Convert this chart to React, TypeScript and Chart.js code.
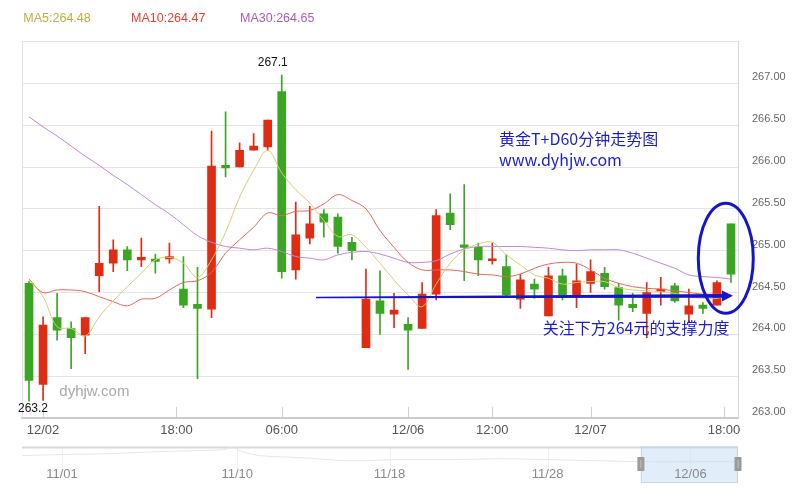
import React, { useEffect, useRef } from 'react';
import { Chart, registerables } from 'chart.js';

Chart.register(...registerables);

// ---------- data ----------
const opens = [
  264.61, 263.40, 264.20, 264.07, 263.99, 264.70, 264.85, 265.01, 264.89, 264.90,
  264.90, 264.54, 264.36, 264.30, 266.02, 266.00, 266.20, 266.24, 266.90, 264.77,
  265.15, 265.44, 265.40, 265.10, 263.84, 264.40, 264.24, 264.12, 264.07, 264.48,
  265.45, 265.07, 265.04, 264.88, 264.81, 264.42, 264.60, 264.22, 264.70, 264.47,
  264.61, 264.73, 264.56, 264.36, 264.25, 264.51, 264.58, 264.24, 264.35, 264.35,
  265.32,
];
const highs = [
  264.63, 264.21, 264.49, 264.15, 264.20, 265.53, 265.13, 265.05, 265.15, 264.96,
  265.09, 264.93, 264.80, 266.43, 266.66, 266.29, 266.40, 266.56, 267.10, 265.58,
  265.53, 265.49, 265.44, 265.16, 264.78, 264.76, 264.49, 264.20, 264.62, 265.49,
  265.68, 265.79, 265.09, 265.09, 264.95, 264.72, 264.66, 264.80, 264.78, 264.84,
  264.89, 264.80, 264.61, 264.49, 264.62, 264.68, 264.61, 264.54, 264.38, 264.64,
  265.32,
];
const lows = [
  263.20, 263.21, 263.93, 263.59, 263.77, 264.51, 264.75, 264.76, 264.81, 264.73,
  264.85, 264.32, 263.47, 264.20, 265.88, 266.00, 266.20, 266.20, 264.67, 264.66,
  265.08, 265.16, 264.97, 264.89, 263.84, 264.00, 264.08, 263.58, 264.07, 264.41,
  265.25, 264.64, 264.70, 264.84, 264.45, 264.31, 264.43, 264.22, 264.41, 264.32,
  264.50, 264.54, 264.17, 264.27, 263.96, 264.35, 264.38, 264.15, 264.25, 264.35,
  264.62,
];
const closes = [
  263.45, 264.11, 264.05, 263.96, 264.20, 264.85, 265.01, 264.89, 264.92, 264.87,
  264.93, 264.35, 264.31, 266.01, 265.99, 266.20, 266.25, 266.56, 264.75, 265.19,
  265.32, 265.34, 265.05, 265.00, 264.42, 264.25, 264.29, 264.05, 264.48, 265.42,
  265.31, 265.04, 264.89, 264.90, 264.47, 264.65, 264.54, 264.70, 264.47, 264.64,
  264.75, 264.57, 264.35, 264.32, 264.50, 264.54, 264.40, 264.34, 264.31, 264.62,
  264.72,
];
const ma5 = [
  264.65, 264.45, 264.09, 264.07, 263.98, 264.21, 264.40, 264.57, 264.73, 264.89,
  264.92, 264.85, 264.68, 264.89, 265.22, 265.64, 265.96, 266.20, 265.93, 265.73,
  265.57, 265.36, 265.17, 265.19, 265.04, 264.85, 264.65, 264.47, 264.33, 264.60,
  264.85, 265.01, 265.08, 265.10, 264.95, 264.83, 264.71, 264.67, 264.60, 264.62,
  264.63, 264.63, 264.56, 264.53, 264.52, 264.51, 264.49, 264.45, 264.43, 264.43,
  264.48,
];
const ma10 = [
  264.66, 264.50, 264.53, 264.53, 264.51, 264.45, 264.39, 264.34, 264.42, 264.43,
  264.53, 264.62, 264.64, 264.74, 264.97, 265.13, 265.28, 265.45, 265.42, 265.47,
  265.48, 265.56, 265.67, 265.60, 265.50, 265.24, 265.04, 264.86, 264.77, 264.77,
  264.77, 264.75, 264.72, 264.71, 264.69, 264.72, 264.79, 264.84, 264.86, 264.85,
  264.77, 264.67, 264.61, 264.57, 264.55, 264.54, 264.52, 264.50, 264.48, 264.48,
  264.47,
];
const ma30 = [
  266.60, 266.48, 266.37, 266.25, 266.13, 266.02, 265.90, 265.79, 265.67, 265.55,
  265.44, 265.31, 265.18, 265.10, 265.05, 265.03, 265.01, 265.03, 264.99, 264.93,
  264.91, 264.89, 264.95, 264.98, 264.99, 264.96, 264.91, 264.86, 264.86, 264.88,
  264.96, 265.02, 265.05, 265.05, 265.05, 265.05, 265.04, 265.03, 265.01, 265.00,
  265.01, 265.01, 265.01, 264.97, 264.91, 264.85, 264.79, 264.71, 264.69, 264.68,
  264.66,
];

const xTickValues = [1, 10.5, 18, 27, 33, 40, 49.5];
const xTickLabels = ['12/02', '18:00', '06:00', '12/06', '12:00', '12/07', '18:00'];

const legendNames = ['MA5', 'MA10', 'MA30'];
const legendValues = ['264.48', '264.47', '264.65'];

// slider (dataZoom) overview
const sliderLabels = ['11/01', '11/10', '11/18', '11/28', '12/06'];
const sliderLabelIdx = [21, 113, 193, 276, 351];
const sliderTotal = 376;
const sliderWindow = [325, 376];
const sliderShadowIdx = [0, 21, 46, 72, 93, 106, 111, 114, 125, 146, 172, 198, 225, 251, 277, 303, 324, 355, 376];
const sliderShadowVals = [275.0, 275.6, 276.1, 277.2, 277.8, 278.3, 280.0, 277.8, 275.0, 273.9, 272.2, 272.8, 272.8, 273.3, 272.8, 272.2, 271.7, 271.7, 271.7];

// ---------- styles ----------
const UP = '#df2c12';
const DOWN = '#3ca524';
const MA_LINE = ['#d6cc72', '#ea6456', '#c684d4'];
const MA_TEXT = ['#b9b040', '#e8402e', '#ab5bbd'];
const BLUE_TEXT = '#1e1ec8';
const BLUE_SHAPE = '#1414cf';
const CJK = '"Noto Sans CJK SC", "Noto Sans", sans-serif';
const LATIN = 'Arial, "Liberation Sans", sans-serif';

const W = 799;
const H = 494;

export default function App() {
  const mainRef = useRef<HTMLCanvasElement>(null);
  const sliderRef = useRef<HTMLCanvasElement>(null);

  useEffect(() => {
    document.body.style.margin = '0';
    Chart.defaults.font.family = LATIN;

    const n = opens.length;
    const idx = opens.map((_, i) => i);
    const colors = idx.map((i) => (closes[i] >= opens[i] ? UP : DOWN));
    const bodies = idx.map((i) => ({ x: i, y: [Math.min(opens[i], closes[i]), Math.max(opens[i], closes[i])] }));
    const wicks = idx.map((i) => ({ x: i, y: [lows[i], highs[i]] }));
    const maSeries = [ma5, ma10, ma30];

    let maxI = 0;
    let minI = 0;
    idx.forEach((i) => {
      if (highs[i] > highs[maxI]) maxI = i;
      if (lows[i] < lows[minI]) minI = i;
    });

    const mainDecor = {
      id: 'mainDecor',
      beforeDatasetsDraw(chart: any) {
        const { ctx, chartArea: a } = chart;
        ctx.save();
        ctx.strokeStyle = '#e2e2e2';
        ctx.lineWidth = 1;
        ctx.beginPath();
        ctx.moveTo(a.left + 0.5, a.top);
        ctx.lineTo(a.left + 0.5, a.bottom);
        ctx.stroke();
        ctx.restore();
      },
      afterDraw(chart: any) {
        const { ctx, chartArea: a, scales } = chart;
        const xs = scales.x;
        const ys = scales.y;
        ctx.save();

        // inside tick marks on the category axis
        ctx.strokeStyle = '#cfcfcf';
        ctx.lineWidth = 1;
        xs.ticks.forEach((t: any) => {
          const px = Math.round(xs.getPixelForValue(t.value)) + 0.5;
          ctx.beginPath();
          ctx.moveTo(px, a.bottom - 11);
          ctx.lineTo(px, a.bottom);
          ctx.stroke();
        });

        // legend
        ctx.textBaseline = 'middle';
        ctx.textAlign = 'left';
        ctx.font = `12.5px ${LATIN}`;
        const legX = [1.3, 109, 218];
        legendNames.forEach((nm, k) => {
          ctx.fillStyle = MA_TEXT[k];
          ctx.fillText(`${nm}:${legendValues[k]}`, a.left + legX[k], 19);
        });

        // max / min markers
        ctx.fillStyle = '#111';
        ctx.font = `12px ${LATIN}`;
        ctx.textAlign = 'center';
        ctx.fillText(highs[maxI].toFixed(1), xs.getPixelForValue(maxI) - 9, ys.getPixelForValue(highs[maxI]) - 12);
        ctx.fillText(lows[minI].toFixed(1), xs.getPixelForValue(minI) + 4, ys.getPixelForValue(lows[minI]) + 7);

        // watermark text
        ctx.textAlign = 'left';
        ctx.fillStyle = '#a9a9a9';
        ctx.font = `15px ${LATIN}`;
        ctx.fillText('dyhjw.com', xs.getPixelForValue(2.16), ys.getPixelForValue(263.31));

        // blue annotations
        ctx.fillStyle = BLUE_TEXT;
        ctx.font = `16px ${CJK}`;
        ctx.fillText('黄金T+D60分钟走势图', xs.getPixelForValue(33.47), ys.getPixelForValue(266.33));
        ctx.fillText('www.dyhjw.com', xs.getPixelForValue(33.47), ys.getPixelForValue(266.08));
        ctx.fillText('关注下方264元的支撑力度', xs.getPixelForValue(36.6), ys.getPixelForValue(264.08));

        // arrow
        const x0 = xs.getPixelForValue(20.44);
        const y0 = ys.getPixelForValue(264.44);
        const x1 = xs.getPixelForValue(50.14);
        const y1 = ys.getPixelForValue(264.46);
        const hx = x1 - 11;
        const hy = y0 + (y1 - y0) * ((hx - x0) / (x1 - x0));
        ctx.fillStyle = BLUE_SHAPE;
        ctx.beginPath();
        ctx.moveTo(x0, y0 - 0.8);
        ctx.lineTo(hx, hy - 1.8);
        ctx.lineTo(hx, hy + 1.8);
        ctx.lineTo(x0, y0 + 0.8);
        ctx.closePath();
        ctx.fill();
        ctx.beginPath();
        ctx.moveTo(x1, y1);
        ctx.lineTo(hx, hy - 5.5);
        ctx.lineTo(hx, hy + 5.5);
        ctx.closePath();
        ctx.fill();

        // ellipse
        ctx.strokeStyle = BLUE_SHAPE;
        ctx.lineWidth = 3;
        ctx.beginPath();
        ctx.ellipse(xs.getPixelForValue(49.63), ys.getPixelForValue(264.91), 27.5, 55, 0, 0, Math.PI * 2);
        ctx.stroke();

        ctx.restore();
      },
    };

    const main = new Chart(mainRef.current as HTMLCanvasElement, {
      type: 'bar',
      data: {
        datasets: [
          ...maSeries.map((s, k) => ({
            type: 'line' as const,
            data: s.map((v, i) => ({ x: i, y: v })),
            borderColor: MA_LINE[k],
            borderWidth: 1,
            pointRadius: 0,
            tension: 0.35,
            fill: false,
            order: 0,
          })),
          {
            type: 'bar' as const,
            data: wicks as any,
            backgroundColor: colors,
            barThickness: 1,
            grouped: false,
            order: 2,
          },
          {
            type: 'bar' as const,
            data: bodies as any,
            backgroundColor: colors,
            barThickness: 8,
            minBarLength: 2,
            grouped: false,
            order: 1,
          },
        ],
      },
      options: {
        responsive: false,
        animation: false,
        events: [],
        layout: { padding: { left: 22, top: 41.5, right: 0, bottom: 46 } },
        plugins: { legend: { display: false }, tooltip: { enabled: false } },
        scales: {
          x: {
            type: 'linear',
            min: -0.5,
            max: n - 0.5,
            offset: false,
            afterBuildTicks: (s: any) => {
              s.ticks = xTickValues.map((v) => ({ value: v }));
            },
            afterFit: (s: any) => {
              s.height = 30;
            },
            ticks: {
              autoSkip: false,
              maxRotation: 0,
              padding: 5,
              color: '#555',
              font: { size: 13, family: LATIN },
              callback: (_v: any, i: number) => xTickLabels[i],
            },
            grid: { display: false, drawTicks: false, offset: false },
            border: { display: true, color: '#cccccc', width: 2 },
          },
          y: {
            type: 'linear',
            position: 'right',
            min: 263,
            max: 267.5,
            beginAtZero: false,
            afterFit: (s: any) => {
              s.width = 61;
            },
            ticks: {
              stepSize: 0.5,
              padding: 14,
              labelOffset: -6,
              color: '#666',
              font: { size: 11, family: LATIN },
              callback: (v: any) => (Number(v) > 267.01 ? '' : Number(v).toFixed(2)),
            },
            grid: { color: '#e4e4e4', lineWidth: 1, drawTicks: false },
            border: { display: true, color: '#cfd8e6', width: 1 },
          },
        },
      },
      plugins: [mainDecor],
    } as any);

    const sliderDecor = {
      id: 'sliderDecor',
      beforeDatasetsDraw(chart: any) {
        const { ctx, chartArea: a, scales } = chart;
        const xs = scales.x;
        ctx.save();
        ctx.strokeStyle = '#efefef';
        ctx.lineWidth = 1;
        sliderLabelIdx.forEach((v) => {
          const px = Math.round(xs.getPixelForValue(v)) + 0.5;
          ctx.beginPath();
          ctx.moveTo(px, a.top);
          ctx.lineTo(px, a.top + 22);
          ctx.stroke();
        });
        ctx.strokeStyle = '#dadada';
        ctx.lineWidth = 2;
        ctx.beginPath();
        ctx.moveTo(a.left, a.top + 1);
        ctx.lineTo(a.right, a.top + 1);
        ctx.stroke();
        ctx.restore();
      },
      afterDatasetsDraw(chart: any) {
        const { ctx, chartArea: a, scales } = chart;
        const xs = scales.x;
        const x0 = xs.getPixelForValue(sliderWindow[0]);
        const x1 = xs.getPixelForValue(sliderWindow[1]);
        ctx.save();
        ctx.fillStyle = 'rgba(196,219,244,0.5)';
        ctx.fillRect(x0, a.top, x1 - x0, a.bottom - a.top);
        ctx.strokeStyle = '#cbd3dd';
        ctx.lineWidth = 1;
        ctx.strokeRect(x0 + 0.5, a.top + 0.5, x1 - x0 - 1, a.bottom - a.top - 1);

        ctx.fillStyle = '#8a8a8a';
        ctx.font = `13px ${LATIN}`;
        ctx.textAlign = 'center';
        ctx.textBaseline = 'middle';
        sliderLabels.forEach((lb, k) => {
          ctx.fillText(lb, xs.getPixelForValue(sliderLabelIdx[k]), a.top + 27.5);
        });

        const hy = a.top + 10.5;
        [x0, x1].forEach((hx) => {
          ctx.fillStyle = '#9b9b9b';
          ctx.fillRect(hx - 3.5, hy, 7, 14);
          ctx.fillStyle = '#c4c4c4';
          ctx.fillRect(hx - 0.5, hy + 3, 1, 8);
        });
        ctx.restore();
      },
    };

    const slider = new Chart(sliderRef.current as HTMLCanvasElement, {
      type: 'line',
      data: {
        datasets: [
          {
            data: sliderShadowIdx.map((x, i) => ({ x, y: sliderShadowVals[i] })),
            borderColor: '#e6e6e6',
            borderWidth: 1,
            pointRadius: 0,
            tension: 0.3,
            fill: false,
          },
        ],
      },
      options: {
        responsive: false,
        animation: false,
        events: [],
        layout: { padding: { left: 22, right: 61, top: 6.5, bottom: 11 } },
        plugins: { legend: { display: false }, tooltip: { enabled: false } },
        scales: {
          x: { type: 'linear', min: 0, max: sliderTotal, display: false },
          y: { type: 'linear', min: 260, max: 280, display: false },
        },
      },
      plugins: [sliderDecor],
    } as any);

    return () => {
      main.destroy();
      slider.destroy();
    };
  }, []);

  return (
    <div style={{ position: 'fixed', left: 0, top: 0, width: W, height: H, background: '#fff' }}>
      <canvas ref={mainRef} width={W} height={H} style={{ position: 'absolute', left: 0, top: 0 }} />
      <canvas ref={sliderRef} width={W} height={54} style={{ position: 'absolute', left: 0, top: 440 }} />
    </div>
  );
}
